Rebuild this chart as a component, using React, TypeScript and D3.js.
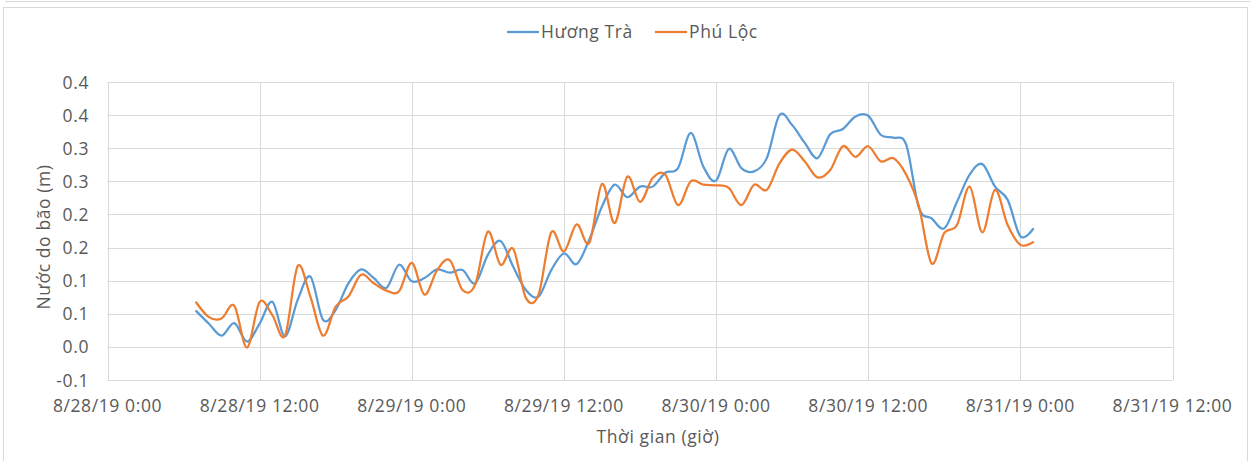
import { useEffect, useRef } from "react";
import * as d3 from "d3";

// hourly readings, starting 8/28/19 7:00 (hours counted from 8/28/19 0:00)
const hours = d3.range(7, 74);

const huongTra = [
  0.054, 0.035, 0.017, 0.036, 0.008, 0.035, 0.068, 0.016, 0.071, 0.106,
  0.041, 0.056, 0.096, 0.117, 0.104, 0.089, 0.124, 0.099, 0.104, 0.117,
  0.112, 0.116, 0.096, 0.139, 0.16, 0.121, 0.086, 0.076, 0.116, 0.141,
  0.125, 0.162, 0.212, 0.245, 0.226, 0.242, 0.242, 0.263, 0.27, 0.323,
  0.272, 0.251, 0.299, 0.27, 0.265, 0.285, 0.35, 0.335, 0.308, 0.285,
  0.321, 0.329, 0.348, 0.349, 0.32, 0.316, 0.305, 0.21, 0.194, 0.179,
  0.219, 0.26, 0.276, 0.242, 0.222, 0.167, 0.178,
];

const phuLoc = [
  0.067, 0.045, 0.043, 0.062, -0.001, 0.068, 0.048, 0.017, 0.122, 0.076,
  0.017, 0.061, 0.076, 0.109, 0.096, 0.085, 0.084, 0.127, 0.079, 0.116,
  0.131, 0.086, 0.094, 0.174, 0.124, 0.148, 0.074, 0.079, 0.173, 0.144,
  0.185, 0.157, 0.246, 0.187, 0.257, 0.219, 0.255, 0.26, 0.214, 0.25,
  0.245, 0.244, 0.24, 0.214, 0.245, 0.237, 0.277, 0.298, 0.28, 0.256,
  0.267, 0.303, 0.287, 0.303, 0.28, 0.285, 0.26, 0.212, 0.126, 0.172,
  0.184, 0.242, 0.173, 0.237, 0.184, 0.154, 0.158,
];

const seriesNames = ["Hương Trà", "Phú Lộc"];
const seriesColors = ["#5B9BD5", "#ED7D31"];

const yTicks = [-0.05, 0, 0.05, 0.1, 0.15, 0.2, 0.25, 0.3, 0.35, 0.4];
const yTickLabels = ["-0.1", "0.0", "0.1", "0.1", "0.2", "0.2", "0.3", "0.3", "0.4", "0.4"];

const xTicks = [0, 12, 24, 36, 48, 60, 72, 84];
const xTickLabels = [
  "8/28/19 0:00",
  "8/28/19 12:00",
  "8/29/19 0:00",
  "8/29/19 12:00",
  "8/30/19 0:00",
  "8/30/19 12:00",
  "8/31/19 0:00",
  "8/31/19 12:00",
];

const xTitle = "Thời gian (giờ)";
const yTitle = "Nước do bão (m)";

function App() {
  const ref = useRef<SVGSVGElement>(null);

  useEffect(() => {
    const width = 1250;
    const height = 461;
    const plot = { left: 107.5, right: 1172.5, top: 82, bottom: 380 };
    const font = "'Open Sans', 'Noto Sans', sans-serif";
    const fontSize = 17.5;
    const spacing = 0.6;
    const textColor = "#595959";
    const gridColor = "#d9d9d9";

    const svg = d3.select(ref.current);
    svg.selectAll("*").remove();
    svg.attr("width", width).attr("height", height);

    svg.append("rect").attr("width", width).attr("height", height).attr("fill", "#fff");

    // cadre du graphique
    svg
      .append("line")
      .attr("x1", 5)
      .attr("x2", width)
      .attr("y1", 1.5)
      .attr("y2", 1.5)
      .attr("stroke", gridColor);
    svg
      .append("rect")
      .attr("x", 3.5)
      .attr("y", 7.5)
      .attr("width", 1244)
      .attr("height", 480)
      .attr("fill", "none")
      .attr("stroke", gridColor);

    const x = d3.scaleLinear([0, 84], [plot.left, plot.right]);
    const y = d3.scaleLinear([-0.05, 0.4], [plot.bottom, plot.top]);

    const addText = (tx: number, ty: number, anchor: string, label: string) =>
      svg
        .append("text")
        .attr("x", tx)
        .attr("y", ty)
        .attr("text-anchor", anchor)
        .attr("font-family", font)
        .attr("font-size", fontSize)
        .attr("letter-spacing", spacing)
        .attr("fill", textColor)
        .text(label);

    // grille horizontale
    yTicks.forEach((t, i) => {
      svg
        .append("line")
        .attr("x1", plot.left)
        .attr("x2", plot.right)
        .attr("y1", Math.round(y(t)) + 0.5)
        .attr("y2", Math.round(y(t)) + 0.5)
        .attr("stroke", gridColor);
      addText(89, y(t) + 6.5, "end", yTickLabels[i]);
    });

    // grille verticale
    xTicks.forEach((t, i) => {
      svg
        .append("line")
        .attr("x1", Math.round(x(t)) + 0.5)
        .attr("x2", Math.round(x(t)) + 0.5)
        .attr("y1", plot.top)
        .attr("y2", plot.bottom)
        .attr("stroke", gridColor);
      addText(x(t), 411.5, "middle", xTickLabels[i]);
    });

    // courbes lissées
    const line = d3
      .line<number>()
      .x((_, i) => x(hours[i]))
      .y((d) => y(d))
      .curve(d3.curveCardinal.tension(0));

    [huongTra, phuLoc].forEach((values, i) => {
      svg
        .append("path")
        .datum(values)
        .attr("d", line)
        .attr("fill", "none")
        .attr("stroke", seriesColors[i])
        .attr("stroke-width", 2.25)
        .attr("stroke-linejoin", "round")
        .attr("stroke-linecap", "round");
    });

    // légende
    const legendX = [507, 655];
    seriesNames.forEach((name, i) => {
      svg
        .append("line")
        .attr("x1", legendX[i])
        .attr("x2", legendX[i] + 32)
        .attr("y1", 32)
        .attr("y2", 32)
        .attr("stroke", seriesColors[i])
        .attr("stroke-width", 2.25);
      addText(legendX[i] + 34, 38, "start", name);
    });

    // titres des axes
    addText(658, 443, "middle", xTitle);

    addText(0, 0, "middle", yTitle).attr("transform", `translate(50, 237) rotate(-90)`);
  }, []);

  return (
    <svg
      ref={ref}
      style={{ position: "absolute", left: 0, top: 0, display: "block" }}
    ></svg>
  );
}

export default App;
